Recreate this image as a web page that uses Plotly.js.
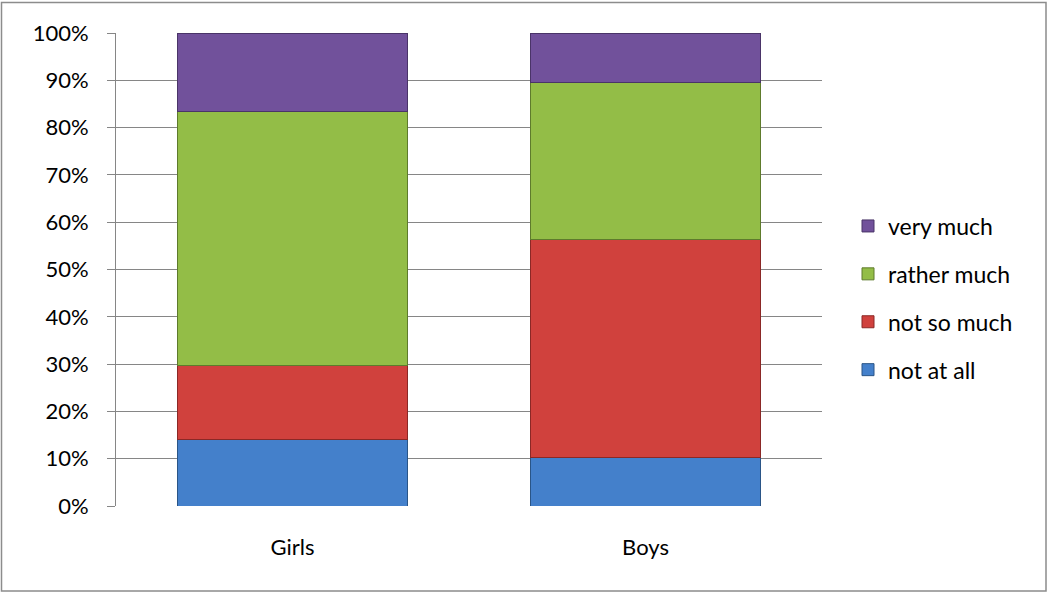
<!DOCTYPE html>
<html>
<head>
<meta charset="utf-8">
<script src="https://cdn.plot.ly/plotly-3.0.1.min.js"></script>
<style>
html,body{margin:0;padding:0;background:#fff;}
#chart{width:1048px;height:593px;}
</style>
</head>
<body>
<div id="chart"></div>
<script>
const categories = ["Girls", "Boys"];
const seriesNames = ["not at all", "not so much", "rather much", "very much"];
const notAtAll   = [14.0, 10.3];
const notSoMuch  = [15.6, 46.1];
const ratherMuch = [53.8, 33.2];
const veryMuch   = [16.6, 10.4];
const yTicks = [0,10,20,30,40,50,60,70,80,90,100];
const yTickLabels = yTicks.map(v => v + "%");

const values = [notAtAll, notSoMuch, ratherMuch, veryMuch];
const fills = ["#4480CB", "#D0413D", "#93BD47", "#71519B"];
const edges = ["#2A5587", "#8B2826", "#5E7B2C", "#4A3468"];

const traces = values.map((vals, i) => ({
  type: "bar",
  name: seriesNames[i],
  x: categories,
  y: vals,
  legendgroup: "g" + i,
  legendrank: 1000 - i,
  marker: {color: fills[i], line: {color: edges[i], width: 1}},
  hoverinfo: "skip"
}));

const font = {family: "Lato, 'Liberation Sans', sans-serif", size: 22, color: "#000"};

const layout = {
  width: 1048, height: 593,
  margin: {l: 116, r: 226, t: 33, b: 87},
  paper_bgcolor: "#fff", plot_bgcolor: "#fff",
  barmode: "stack",
  bargap: 0.35,
  font: font,
  showlegend: true,
  legend: {
    x: (848 - 116) / 706, xanchor: "left", y: (506 - 298) / 473, yanchor: "middle",
    traceorder: "grouped",
    tracegroupgap: 15,
    font: {family: font.family, size: 23, color: "#000"},
    itemwidth: 30
  },
  xaxis: {
    type: "category",
    showgrid: false, zeroline: false,
    showline: false,
    ticks: "", ticklabelstandoff: 26,
    tickfont: font
  },
  yaxis: {
    range: [0, 100],
    tickvals: yTicks, ticktext: yTickLabels,
    showgrid: true, gridcolor: "#868686", gridwidth: 1,
    zeroline: false,
    showline: true, linecolor: "#868686", linewidth: 1,
    ticks: "outside", ticklen: 8, tickcolor: "#868686",
    ticklabelstandoff: 14,
    tickfont: font
  },
  shapes: [{
    type: "rect", xref: "paper", yref: "paper",
    x0: (1.5 - 116) / 706, x1: (1046 - 116) / 706,
    y0: (506 - 591) / 473, y1: (506 - 2.5) / 473,
    line: {color: "#8C8C8C", width: 1.5}, fillcolor: "rgba(0,0,0,0)", layer: "below"
  }]
};

Plotly.newPlot("chart", traces, layout, {displayModeBar: false, staticPlot: true});
</script>
</body>
</html>
